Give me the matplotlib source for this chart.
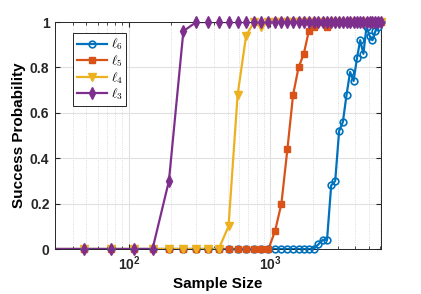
import numpy as np
import matplotlib
matplotlib.use("Agg")
from matplotlib import pyplot as plt

# sample sizes (same grid for every curve)
sample_size = [27, 48, 75, 108, 147, 192, 243, 300, 363, 432, 507, 588, 675,
               768, 867, 972, 1083, 1200, 1323, 1452, 1587, 1728, 1875, 2028,
               2187, 2352, 2523, 2700, 2883, 3072, 3267, 3468, 3675, 3888,
               4107, 4332, 4563, 4800, 5043, 5292, 5547, 5808, 6075]

# success probability
p_l6 = [0, 0, 0, 0, 0, 0, 0, 0, 0, 0, 0, 0, 0, 0, 0, 0, 0, 0, 0, 0, 0, 0, 0, 0,
        0.02, 0.04, 0.04, 0.28, 0.30, 0.52, 0.56, 0.68, 0.78, 0.74, 0.84,
        0.92, 0.86, 0.98, 0.94, 0.92, 0.96, 0.98, 1.0]
p_l5 = [0, 0, 0, 0, 0, 0, 0, 0, 0, 0, 0, 0, 0, 0, 0, 0, 0.08, 0.20, 0.44,
        0.68, 0.80, 0.86, 0.96, 0.98, 1, 1, 0.98, 1, 1, 1, 1, 1, 1, 1, 1, 1,
        1, 1, 1, 1, 1, 1, 1]
p_l4 = [0, 0, 0, 0, 0, 0, 0, 0, 0, 0, 0.10, 0.68, 0.94, 1, 0.98, 1, 1, 1, 1,
        1, 1, 1, 1, 1, 1, 1, 1, 1, 1, 1, 1, 1, 1, 1, 1, 1, 1, 1, 1, 1, 1, 1, 1]
p_l3 = [0, 0, 0, 0, 0, 0.30, 0.96, 1, 1, 1, 1, 1, 1, 1, 1, 1, 1, 1, 1, 1, 1,
        1, 1, 1, 1, 1, 1, 1, 1, 1, 1, 1, 1, 1, 1, 1, 1, 1, 1, 1, 1, 1, 1]

labels = [r'$\ell_6$', r'$\ell_5$', r'$\ell_4$', r'$\ell_3$']
colors = ['#0072BD', '#D95319', '#EDB120', '#7E2F8E']
yticks = [0, 0.2, 0.4, 0.6, 0.8, 1]
ytick_labels = ['0', '0.2', '0.4', '0.6', '0.8', '1']
xmin, xmax = 30, 6075

plt.rcParams['font.family'] = ['Liberation Sans', 'DejaVu Sans']
plt.rcParams['font.weight'] = 'bold'
plt.rcParams['mathtext.fontset'] = 'cm'

fig = plt.figure(figsize=(4.21, 2.94), dpi=100)
ax = fig.add_axes([0.1306, 0.153, 0.7743, 0.772])

x = np.array(sample_size)
inside = x >= xmin
styles = [dict(marker='o', ms=4.8, mfc='none', mew=1.2),
          dict(marker='s', ms=4.5, mew=1.0),
          dict(marker='v', ms=6, mew=1.0),
          dict(marker='d', ms=5.8, mew=1.0)]

for y, c, lab, st in zip([p_l6, p_l5, p_l4, p_l3], colors, labels, styles):
    y = np.array(y)
    ax.plot(x, y, '-', color=c, lw=1.6)
    # markers like matlab: not clipped at the axes box
    ax.plot(x[inside], y[inside], ls='none', color=c, clip_on=False,
            zorder=3, **st)
    ax.plot([], [], '-', color=c, lw=1.6, label=lab, **st)

ax.set_xscale('log')
ax.set_xlim(xmin, xmax)
ax.set_ylim(0, 1)
ax.set_yticks(yticks)
ax.set_yticklabels(ytick_labels)

ax.grid(True, which='major', color='#e0e0e0', lw=0.8, ls='-')
ax.grid(True, which='minor', axis='x', color='#d0d0d0', lw=0.6, ls=':')
ax.set_axisbelow(True)

for s in ax.spines.values():
    s.set_color('#262626')
    s.set_linewidth(0.7)
ax.tick_params(which='both', direction='in', top=True, right=True,
               colors='#262626', labelsize=10, pad=4)
ax.tick_params(which='major', length=3.5)
ax.tick_params(which='minor', length=2)
for t in ax.get_xticklabels() + ax.get_yticklabels():
    t.set_fontweight('bold')

ax.set_xlabel('Sample Size', fontsize=11, fontweight='bold', labelpad=3)
ax.set_ylabel('Success Probability', fontsize=11, fontweight='bold', labelpad=3)

leg = ax.legend(loc='upper left', bbox_to_anchor=(0.055, 0.951), fontsize=9.5,
                handlelength=2.3, handletextpad=0.25, labelspacing=0.1,
                borderpad=0.3, borderaxespad=0, fancybox=False, framealpha=1)
leg.get_frame().set_edgecolor('#262626')
leg.get_frame().set_linewidth(0.7)

fig.savefig('out.png', dpi=100)
